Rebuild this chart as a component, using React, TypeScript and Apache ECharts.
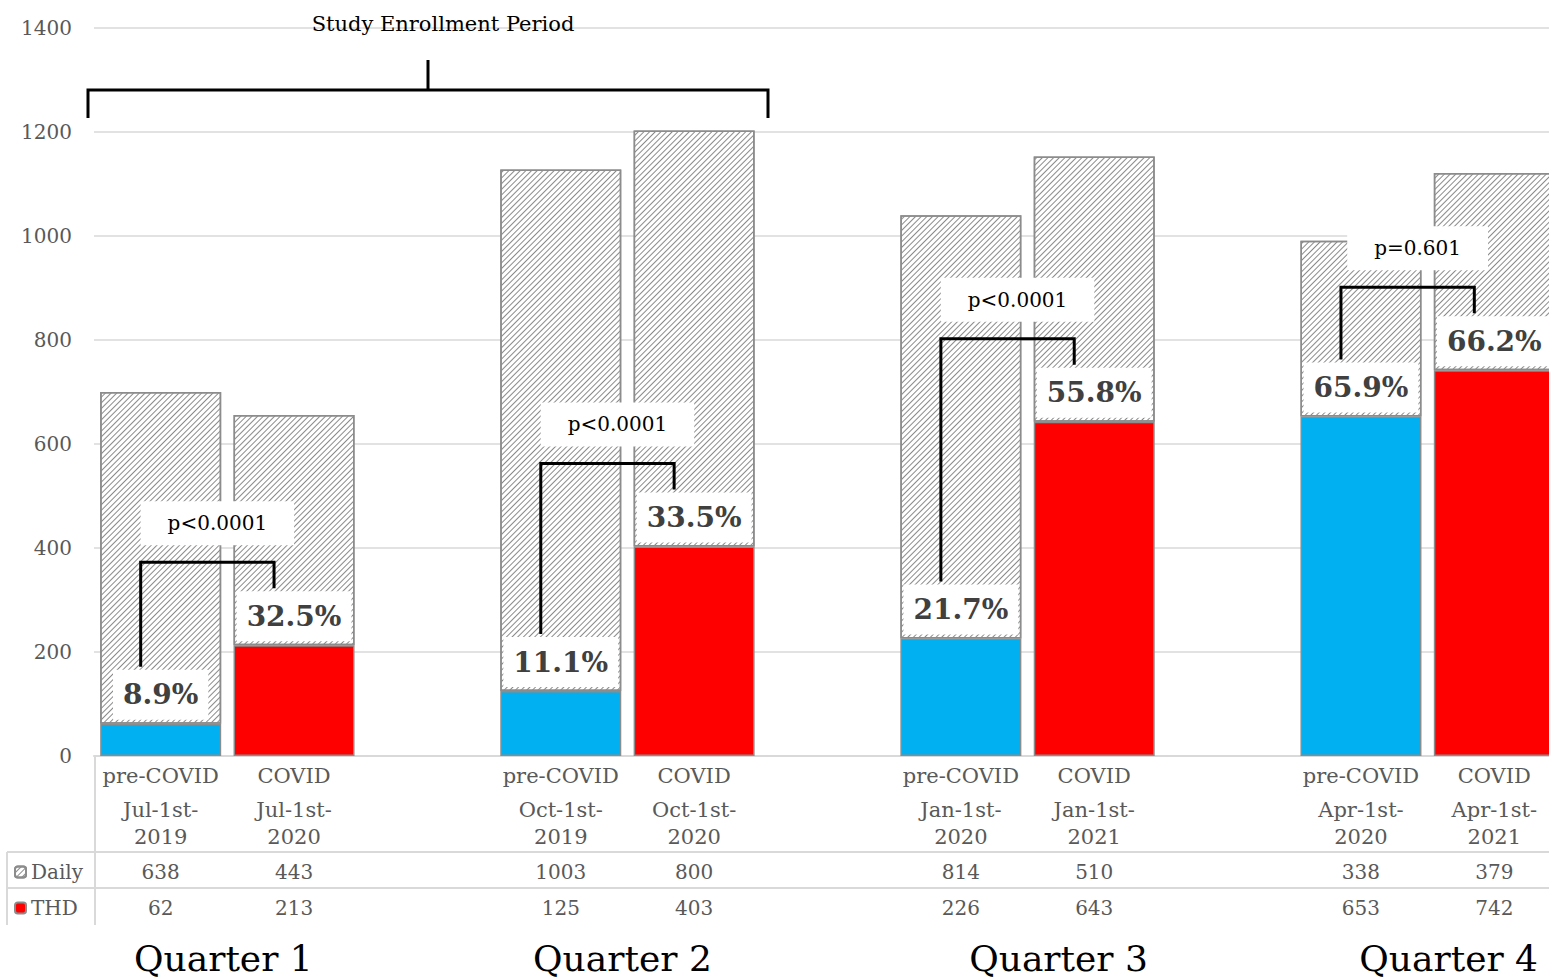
import React, { useEffect, useRef } from 'react';
import * as echarts from 'echarts';

const groups = ['pre-COVID', 'COVID', '', 'pre-COVID', 'COVID', '', 'pre-COVID', 'COVID', '', 'pre-COVID', 'COVID'];
const dateLine1 = ['Jul-1st-', 'Jul-1st-', '', 'Oct-1st-', 'Oct-1st-', '', 'Jan-1st-', 'Jan-1st-', '', 'Apr-1st-', 'Apr-1st-'];
const dateLine2 = ['2019', '2020', '', '2019', '2020', '', '2020', '2021', '', '2020', '2021'];
const daily: (number | null)[] = [638, 443, null, 1003, 800, null, 814, 510, null, 338, 379];
const thd: (number | null)[] = [62, 213, null, 125, 403, null, 226, 643, null, 653, 742];
const pctLabels = ['8.9%', '32.5%', '', '11.1%', '33.5%', '', '21.7%', '55.8%', '', '65.9%', '66.2%'];
const pValues = ['p<0.0001', 'p<0.0001', 'p<0.0001', 'p=0.601'];
const quarterLabels = ['Quarter 1', 'Quarter 2', 'Quarter 3', 'Quarter 4'];
const yTicks = [0, 200, 400, 600, 800, 1000, 1200, 1400];
const enrollmentLabel = 'Study Enrollment Period';

const FONT = '"DejaVu Serif", "Liberation Serif", serif';
const GRAY_TEXT = '#595959';
const GRID_LINE = '#d9d9d9';
const BLUE = '#00B0F0';
const RED = '#FF0000';
const BORDER = '#8c8c8c';

export default function App() {
  const ref = useRef<HTMLDivElement>(null);

  useEffect(() => {
    const chart = echarts.init(ref.current!, null, { renderer: 'svg' });
    const W = 1561;
    const gridLeft = 94;
    const gridTop = 28;
    const gridBottom = 222;

    const categories = groups.map((g, i) => (g ? g + ' ' + dateLine1[i] + dateLine2[i] : ' ' + i));

    const option: any = {
      animation: false,
      backgroundColor: '#fff',
      grid: { left: gridLeft, right: 0, top: gridTop, bottom: gridBottom, containLabel: false },
      legend: {
        orient: 'vertical',
        left: 14,
        top: 860,
        padding: 0,
        itemWidth: 11,
        itemHeight: 11,
        itemGap: 12,
        selectedMode: false,
        data: ['Daily', 'THD'],
        textStyle: { fontFamily: FONT, fontSize: 20, lineHeight: 24, color: GRAY_TEXT },
      },
      xAxis: [
        {
          type: 'category',
          position: 'bottom',
          data: categories,
          axisLine: { lineStyle: { color: GRID_LINE, width: 2 } },
          axisTick: { show: false },
          axisLabel: {
            interval: 0,
            margin: 0,
            formatter: (_v: string, i: number) =>
              groups[i] ? `{a|${groups[i]}}\n{b|${dateLine1[i]}}\n{b|${dateLine2[i]}}` : '',
            rich: {
              a: { fontFamily: FONT, fontSize: 21, lineHeight: 40, color: GRAY_TEXT },
              b: { fontFamily: FONT, fontSize: 21, lineHeight: 27, color: GRAY_TEXT },
            },
          },
        },
        {
          type: 'category',
          position: 'bottom',
          offset: 104,
          data: categories,
          axisLine: { show: false },
          axisTick: { show: false },
          axisLabel: {
            interval: 0,
            margin: 0,
            fontFamily: FONT,
            fontSize: 20,
            lineHeight: 24,
            color: GRAY_TEXT,
            formatter: (_v: string, i: number) => (daily[i] == null ? '' : String(daily[i])),
          },
        },
        {
          type: 'category',
          position: 'bottom',
          offset: 140,
          data: categories,
          axisLine: { show: false },
          axisTick: { show: false },
          axisLabel: {
            interval: 0,
            margin: 0,
            fontFamily: FONT,
            fontSize: 20,
            lineHeight: 24,
            color: GRAY_TEXT,
            formatter: (_v: string, i: number) => (thd[i] == null ? '' : String(thd[i])),
          },
        },
      ],
      yAxis: {
        type: 'value',
        min: yTicks[0],
        max: yTicks[yTicks.length - 1],
        interval: yTicks[1] - yTicks[0],
        axisLine: { show: false },
        axisTick: { show: false },
        axisLabel: {
          margin: 22,
          fontFamily: FONT,
          fontSize: 20,
          color: GRAY_TEXT,
          formatter: (v: number) => String(v),
        },
        splitLine: { lineStyle: { color: GRID_LINE, width: 1.5 } },
      },
      series: [
        {
          name: 'THD',
          type: 'bar',
          stack: 'total',
          xAxisIndex: 0,
          barWidth: 121,
          itemStyle: { color: RED, borderColor: BORDER, borderWidth: 1.5 },
          data: thd.map((v, i) => ({
            value: v,
            itemStyle: { color: groups[i] === 'pre-COVID' ? BLUE : RED, borderColor: BORDER, borderWidth: 1.5 },
          })),
        },
        {
          name: 'Daily',
          type: 'bar',
          stack: 'total',
          xAxisIndex: 0,
          barWidth: 121,
          itemStyle: {
            color: '#fff',
            borderColor: BORDER,
            borderWidth: 1.5,
            decal: {
              symbol: 'rect',
              symbolSize: 1,
              color: '#8a8a8a',
              dashArrayX: [1, 0],
              dashArrayY: [1, 2.5],
              rotation: -Math.PI / 4,
            },
          },
          label: {
            show: true,
            position: 'insideBottom',
            distance: 4,
            formatter: (p: any) => pctLabels[p.dataIndex],
            fontFamily: FONT,
            fontWeight: 'bold',
            fontSize: 28,
            lineHeight: 34,
            color: '#404040',
            backgroundColor: '#fff',
            padding: [8, 10, 8, 10],
          },
          data: daily,
        },
      ],
    };
    chart.setOption(option);

    const px = (i: number, v: number) => chart.convertToPixel({ seriesIndex: 0 }, [i, v]) as number[];
    const g: any[] = [];
    const lineStyle = { stroke: GRID_LINE, lineWidth: 2 };
    const [, y0] = px(0, 0);
    g.push({ type: 'line', silent: true, shape: { x1: 7, y1: 852, x2: W, y2: 852 }, style: lineStyle });
    g.push({ type: 'line', silent: true, shape: { x1: 7, y1: 888, x2: W, y2: 888 }, style: lineStyle });
    g.push({ type: 'line', silent: true, shape: { x1: gridLeft + 1, y1: y0, x2: gridLeft + 1, y2: 925 }, style: lineStyle });
    g.push({ type: 'line', silent: true, shape: { x1: 7, y1: 852, x2: 7, y2: 925 }, style: lineStyle });

    // p-value brackets, derived from bar tops
    const quarterShift = [-4, -5, 31, 21];
    for (let q = 0; q < 4; q++) {
      const L = q * 3;
      const R = q * 3 + 1;
      const [xl, yl] = px(L, thd[L] as number);
      const [xr, yr] = px(R, thd[R] as number);
      const lb = yl - 57;
      const rb = yr - 57;
      const top = rb - 26;
      const bx1 = xl - 20;
      const bx2 = xr - 20;
      g.push({
        type: 'polyline',
        silent: true,
        z: 100,
        shape: { points: [[bx1, lb], [bx1, top], [bx2, top], [bx2, rb]] },
        style: { stroke: '#000', lineWidth: 3, fill: null },
      });
      g.push({
        type: 'text',
        silent: true,
        z: 101,
        x: (xl + xr) / 2 - 10,
        y: top - 39,
        style: {
          text: pValues[q],
          fill: '#000',
          fontFamily: FONT,
          fontSize: 20,
          align: 'center',
          verticalAlign: 'middle',
          backgroundColor: '#fff',
          padding: [12, 27, 12, 27],
        },
      });
      g.push({
        type: 'text',
        silent: true,
        x: (xl + xr) / 2 + quarterShift[q],
        y: 958,
        style: {
          text: quarterLabels[q],
          fill: '#000',
          fontFamily: FONT,
          fontSize: 36,
          align: 'center',
          verticalAlign: 'middle',
        },
      });
    }

    // Study enrollment bracket
    g.push({
      type: 'polyline',
      silent: true,
      z: 100,
      shape: { points: [[88, 118], [88, 90], [768, 90], [768, 118]] },
      style: { stroke: '#000', lineWidth: 3, fill: null },
    });
    g.push({
      type: 'line',
      silent: true,
      z: 100,
      shape: { x1: 428, y1: 90, x2: 428, y2: 60 },
      style: { stroke: '#000', lineWidth: 3 },
    });
    g.push({
      type: 'text',
      silent: true,
      x: 443,
      y: 24,
      style: {
        text: enrollmentLabel,
        fill: '#000',
        fontFamily: FONT,
        fontSize: 21,
        align: 'center',
        verticalAlign: 'middle',
      },
    });

    chart.setOption({ graphic: g });

    return () => chart.dispose();
  }, []);

  return (
    <div style={{ position: 'fixed', left: 0, top: 0, width: 1549, height: 978, overflow: 'hidden', background: '#fff' }}>
      <div ref={ref} style={{ position: 'absolute', left: 0, top: 0, width: 1561, height: 978 }} />
    </div>
  );
}
